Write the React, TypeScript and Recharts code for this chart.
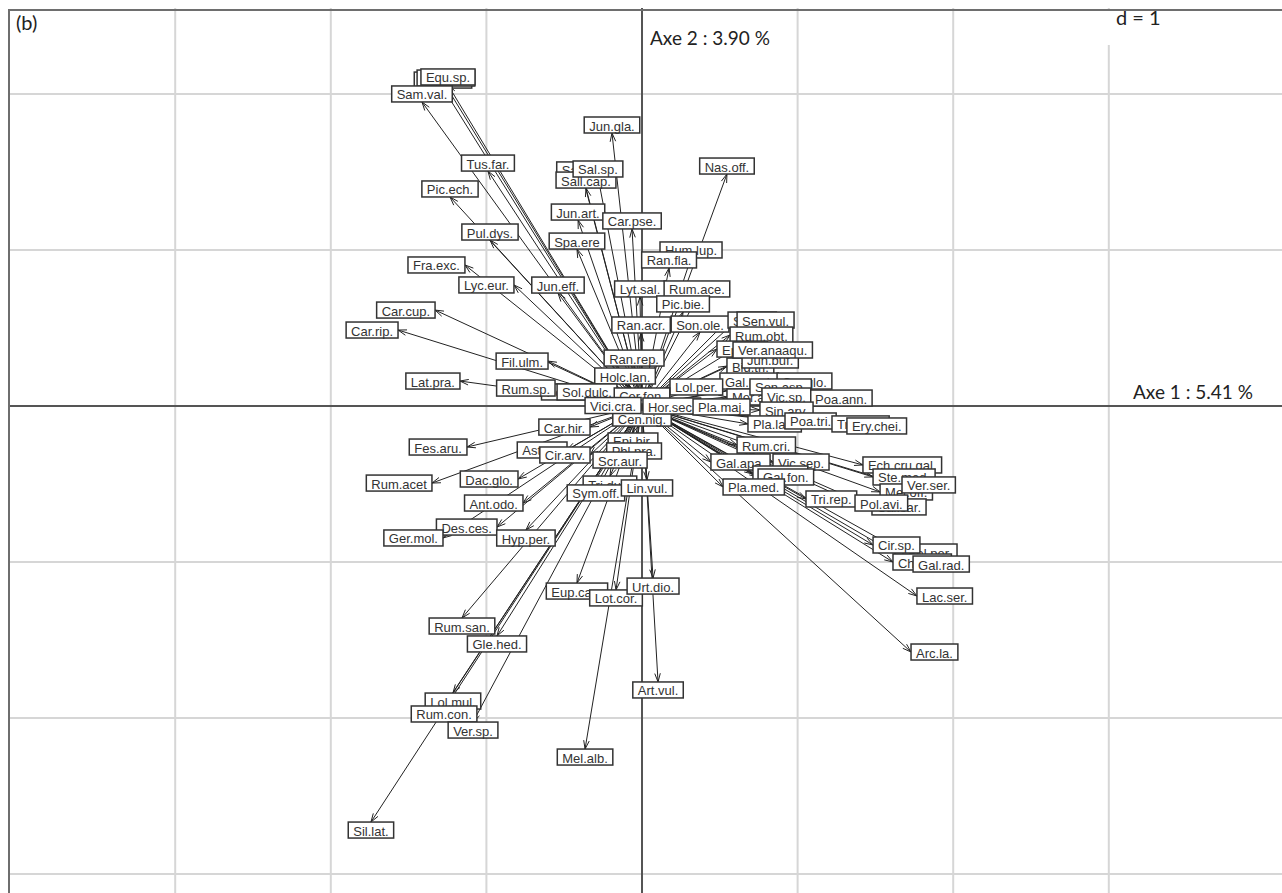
import React from "react";
import { ScatterChart, Scatter, XAxis, YAxis, ReferenceLine } from "recharts";

// species labels, drawn in this order (later ones sit on top)
const species = [
  "Equ.arv.", "Equ.pal.", "Equ.sp.", "Sam.val.", "Tus.far.", "Jun.gla.",
  "Sal.cin.", "Sall.cap.", "Sal.sp.", "Pic.ech.", "Pul.dys.", "Jun.art.",
  "Car.pse.", "Spa.ere", "Nas.off.", "Hum.lup.", "Ran.fla.", "Fra.exc.",
  "Lyc.eur.", "Jun.eff.", "Car.cup.", "Car.rip.", "Lyt.sal.", "Rum.ace.",
  "Pic.bie.", "Ran.acr.", "Son.ole.", "Sil.vul.", "Sen.vul.", "Rum.obt.",
  "Epi.tet.", "Bid.tri.", "Jun.buf.", "Ver.anaaqu.", "Ran.rep.", "Holc.lan.",
  "Gal.mol.", "Cer.glo.", "Mer.ann.", "Son.asp.", "Lol.per.", "Poa.ann.",
  "Vic.sp.", "Sin.arv.", "Pot.rep.", "Sol.dulc.", "Rum.sp.", "Cer.fon.",
  "Cen.nig.", "Vici.cra.", "Hor.sec.", "Pla.maj.", "Pla.lan.", "Poa.tri.",
  "Tri.med.", "Ery.chei.", "Rum.cri.", "Gal.apa.", "Vic.sep.", "Gal.ver.",
  "Gal.fon.", "Pla.med.", "Tri.rep.", "Ech.cru.gal.", "Ste.med.", "Mel.off.",
  "Cal.sar.", "Pol.avi.", "Ver.ser.", "Bel.per.", "Cir.sp.", "Che.alb.",
  "Gal.rad.", "Lac.ser.", "Arc.la.", "Fil.ulm.", "Lat.pra.", "Car.hir.",
  "Fes.aru.", "Ast.sp.", "Cir.arv.", "Rum.acet", "Epi.hir.", "Phl.pra.",
  "Scr.aur.", "Dac.glo.", "Ant.odo.", "Tri.dub.", "Sym.off.", "Lin.vul.",
  "Des.ces.", "Ger.mol.", "Hyp.per.", "Eup.can.", "Lot.cor.", "Urt.dio.",
  "Rum.san.", "Gle.hed.", "Art.vul.", "Lol.mul.", "Rum.con.", "Ver.sp.",
  "Mel.alb.", "Sil.lat.",
];

// coordinates on axis 1
const axis1 = [
  -1.279, -1.26, -1.247, -1.414, -0.99, -0.193,
  -0.379, -0.36, -0.283, -1.234, -0.977, -0.411,
  -0.064, -0.418, 0.546, 0.315, 0.174, -1.138,
  -0.823, -0.54, -1.33, -1.568, -0.013, 0.353,
  0.264, -0.006, 0.373, 0.553, 0.611, 0.566,
  0.482, 0.546, 0.643, 0.585, -0.051, -0.109,
  0.501, 0.868, 0.546, 0.694, 0.18, 1.08,
  0.771, 0.758, -0.289, -0.161, -0.559, 0.0,
  0.0, -0.006, 0.006, 0.328, 0.681, 0.919,
  1.221, 1.317, 0.611, 0.443, 0.842, 0.713,
  0.746, 0.521, 1.054, 1.42, 1.485, 1.53,
  1.478, 1.369, 1.671, 1.677, 1.485, 1.613,
  1.742, 1.767, 1.729, -0.604, -1.17, -0.334,
  -1.125, -0.482, -0.334, -1.35, -0.058, -0.051,
  -0.141, -0.797, -0.765, -0.206, -0.296, 0.032,
  -0.932, -1.279, -0.746, -0.418, -0.167, 0.071,
  -1.157, -0.932, 0.103, -1.215, -1.272, -1.086,
  -0.366, -1.742,
];

// coordinates on axis 2
const axis2 = [
  2.038, 2.051, 2.058, 1.949, 1.506, 1.75,
  1.462, 1.397, 1.468, 1.34, 1.064, 1.192,
  1.135, 1.006, 1.487, 0.949, 0.885, 0.904,
  0.776, 0.724, 0.615, 0.487, 0.699, 0.699,
  0.603, 0.468, 0.474, 0.551, 0.551, 0.455,
  0.365, 0.256, 0.295, 0.359, 0.256, 0.141,
  0.16, 0.16, 0.058, 0.122, 0.122, 0.051,
  0.064, -0.026, 0.09, 0.09, 0.115, 0.013,
  -0.026, 0.003, 0.0, -0.006, -0.115, -0.096,
  -0.115, -0.128, -0.25, -0.359, -0.359, -0.436,
  -0.455, -0.519, -0.596, -0.378, -0.455, -0.551,
  -0.647, -0.622, -0.506, -0.936, -0.891, -1.0,
  -1.013, -1.218, -1.577, 0.288, 0.16, -0.135,
  -0.263, -0.282, -0.314, -0.494, -0.173, -0.237,
  -0.295, -0.468, -0.622, -0.449, -0.506, -0.474,
  -0.776, -0.846, -0.795, -1.135, -1.179, -1.103,
  -1.359, -1.474, -1.769, -1.84, -1.923, -2.026,
  -2.199, -2.667,
];

const gridX = [-3, -2, -1, 1, 2, 3];
const gridY = [-3, -2, -1, 1, 2];

const rows = species.map((name, i) => ({ name, x: axis1[i], y: axis2[i] }));

const LABEL_FONT = "13px 'Liberation Sans', Arial, sans-serif";
const PAD = 5;
const BOX_H = 16;

let ctx: CanvasRenderingContext2D | null = null;
function textWidth(s: string) {
  if (!ctx) ctx = document.createElement("canvas").getContext("2d");
  if (!ctx) return s.length * 7;
  ctx.font = LABEL_FONT;
  return ctx.measureText(s).width;
}

// open "V" head at the tip of each arrow
const ArrowHead = (props: any) => {
  const { cx, cy } = props;
  const p = props.payload ?? props;
  const ang = Math.atan2(-p.y, p.x);
  const len = 9;
  const spread = Math.PI / 10;
  const a1 = ang + Math.PI - spread;
  const a2 = ang + Math.PI + spread;
  const d = `M${cx + len * Math.cos(a1)},${cy + len * Math.sin(a1)} L${cx},${cy} L${cx + len * Math.cos(a2)},${cy + len * Math.sin(a2)}`;
  return <path d={d} fill="none" stroke="#222" strokeWidth={1} />;
};

// boxed label placed like ade4's scatterutil.eti.circ
const LabelBox = (props: any) => {
  const { cx, cy } = props;
  const p = props.payload ?? props;
  const w = textWidth(p.name) + 2 * PAD;
  const h = BOX_H;
  let bx: number;
  let by: number;
  if (p.x > p.y && p.x > -p.y) {
    bx = cx;
    by = cy - h / 2;
  } else if (p.x > p.y && p.x <= -p.y) {
    bx = cx - w / 2;
    by = cy;
  } else if (p.x <= p.y && p.x <= -p.y) {
    bx = cx - w;
    by = cy - h / 2;
  } else {
    bx = cx - w / 2;
    by = cy - h;
  }
  return (
    <g>
      <rect x={bx} y={by} width={w} height={h} fill="#fff" stroke="#333" strokeWidth={1.5} />
      <text
        x={bx + w / 2}
        y={by + h / 2 + 1}
        textAnchor="middle"
        dominantBaseline="central"
        style={{ font: LABEL_FONT }}
        fill="#333"
      >
        {p.name}
      </text>
    </g>
  );
};

const noteStyle: React.CSSProperties = {
  position: "fixed",
  fontFamily: "Lato, 'Open Sans', sans-serif",
  color: "#222",
  lineHeight: 1,
  whiteSpace: "nowrap",
};

export default function App() {
  return (
    <div style={{ position: "fixed", left: 0, top: 0, width: 1282, height: 893, overflow: "hidden", background: "#fff" }}>
      <ScatterChart width={1282} height={893} margin={{ top: 8, left: 8, right: 0, bottom: 0 }}>
        <XAxis type="number" dataKey="x" domain={[-4.0746, 4.1131]} allowDataOverflow hide />
        <YAxis type="number" dataKey="y" domain={[-3.1218, 2.5513]} allowDataOverflow hide />
        {gridX.map((v) => (
          <ReferenceLine key={"gx" + v} x={v} stroke="#d6d6d6" strokeWidth={2} />
        ))}
        {gridY.map((v) => (
          <ReferenceLine key={"gy" + v} y={v} stroke="#d6d6d6" strokeWidth={2} />
        ))}
        <ReferenceLine x={0} stroke="#555" strokeWidth={2} />
        <ReferenceLine y={0} stroke="#555" strokeWidth={2} />
        {rows.map((r) => (
          <ReferenceLine
            key={"a" + r.name}
            segment={[{ x: 0, y: 0 }, { x: r.x, y: r.y }]}
            stroke="#222"
            strokeWidth={1}
            ifOverflow="visible"
          />
        ))}
        <Scatter data={rows} shape={ArrowHead} isAnimationActive={false} />
        <Scatter data={rows} shape={LabelBox} isAnimationActive={false} />
      </ScatterChart>
      <div
        style={{
          position: "fixed",
          left: 8,
          top: 9,
          width: 1300,
          height: 900,
          border: "2px solid #6e6e6e",
          boxSizing: "border-box",
          pointerEvents: "none",
        }}
      />
      <div style={{ ...noteStyle, left: 16, top: 12, fontSize: 20 }}>(b)</div>
      <div style={{ ...noteStyle, left: 650, top: 28, fontSize: 19 }}>Axe 2 : 3.90 %</div>
      <div style={{ ...noteStyle, left: 1100, top: 11, width: 70, height: 34, background: "#fff" }} />
      <div style={{ ...noteStyle, left: 1116, top: 7, fontSize: 20 }}>d = 1</div>
      <div style={{ ...noteStyle, left: 1133, top: 382, fontSize: 19 }}>Axe 1 : 5.41 %</div>
    </div>
  );
}
